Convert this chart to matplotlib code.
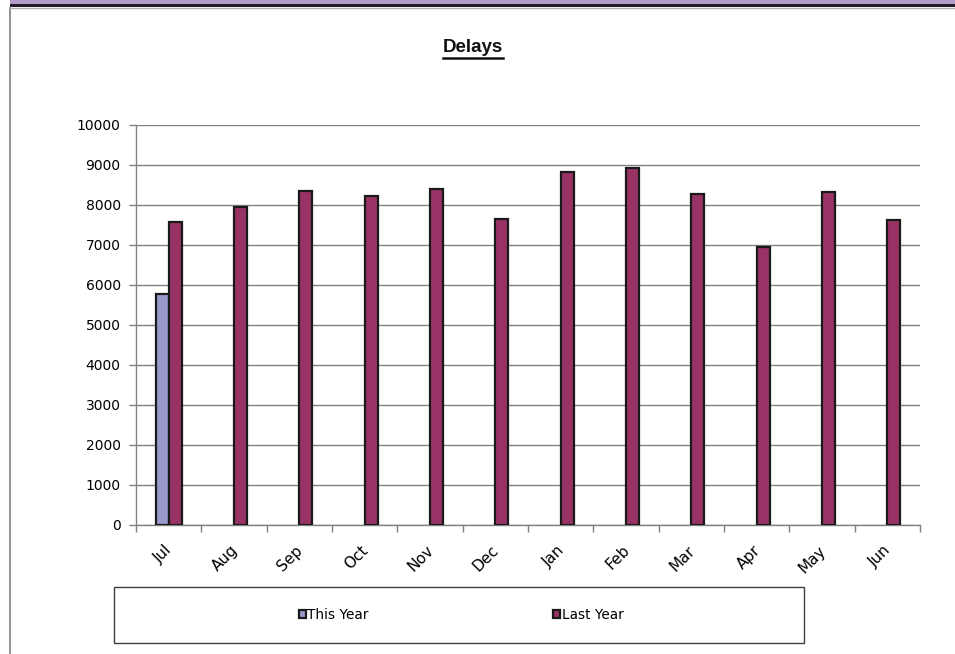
import matplotlib
matplotlib.use('Agg')
from matplotlib import pyplot as plt, ticker, transforms
from matplotlib.patches import Rectangle
from matplotlib.lines import Line2D
import numpy as np

months = ['Jul', 'Aug', 'Sep', 'Oct', 'Nov', 'Dec', 'Jan', 'Feb', 'Mar', 'Apr', 'May', 'Jun']
this_year = [5770]
last_year = [7575, 7935, 8335, 8210, 8400, 7635, 8810, 8915, 8268, 6943, 8325, 7625]

W, H = 955, 654
plt.rcParams['font.family'] = ['DejaVu Sans']

fig = plt.figure(figsize=(W / 100, H / 100), dpi=100)
fig.patch.set_facecolor('white')

def px(x0, y0, x1, y1):
    # pixel box (top-left origin) -> figure fraction rect
    return [x0 / W, 1 - y1 / H, (x1 - x0) / W, (y1 - y0) / H]

ax = fig.add_axes(px(136, 124.7, 920, 524.7))

x = np.arange(len(months))
bw = 0.2
ax.bar(x[:len(this_year)] - bw / 2, this_year, bw, color='#9999CC', edgecolor='#1a1a1a',
       linewidth=1.6, label='This Year', zorder=3)
ax.bar(x + bw / 2, last_year, bw, color='#993366', edgecolor='#1a1a1a',
       linewidth=1.6, label='Last Year', zorder=3)

ax.set_xlim(-0.5, len(months) - 0.5)
ax.set_ylim(0, 10000)
ax.yaxis.set_major_locator(ticker.MultipleLocator(1000))
ax.grid(axis='y', color='#808080', linewidth=1.0, zorder=0)

for s in ['top', 'right']:
    ax.spines[s].set_visible(False)
for s in ['left', 'bottom']:
    ax.spines[s].set_color('#808080')
    ax.spines[s].set_linewidth(1.0)

ax.set_xticks(x)
ax.set_xticklabels(months, rotation=45, ha='right', va='top', rotation_mode='anchor')
ax.set_xticks(np.arange(-0.5, len(months)), minor=True)
ax.tick_params(axis='x', which='major', length=0, pad=13, labelsize=11, colors='black')
ax.tick_params(axis='x', which='minor', length=5, width=1, color='#808080', direction='out')
ax.tick_params(axis='y', length=5, width=1, color='#808080', pad=6, labelsize=10)
shift = transforms.ScaledTranslation(-4 / 100, 0, fig.dpi_scale_trans)
for lbl in ax.get_xticklabels():
    lbl.set_transform(lbl.get_transform() + shift)

# legend box
fig.patches.append(Rectangle((114 / W, 1 - 643 / H), 690 / W, 56 / H, transform=fig.transFigure,
                             facecolor='white', edgecolor='#404040', linewidth=1.0))
leg = fig.legend(loc='center', bbox_to_anchor=(461 / W, 1 - 615 / H), ncol=2, frameon=False,
                 fontsize=9.8, handlelength=0.5, handleheight=0.5, handletextpad=0.1,
                 columnspacing=13.6)

# outer chart frame and header band
fig.patches.append(Rectangle((10 / W, 1 - 3.5 / H), (W - 10) / W, 3.5 / H, transform=fig.transFigure,
                             facecolor='#B49CCA', edgecolor='none'))
fig.patches.append(Rectangle((10 / W, 1 - 6.5 / H), (W - 10) / W, 3 / H, transform=fig.transFigure,
                             facecolor='#231A2A', edgecolor='none'))
fig.add_artist(Line2D([10 / W, 10 / W], [0, 1 - 8 / H], color='#808080', linewidth=1.2))
fig.add_artist(Line2D([10 / W, 1], [1 - 8 / H, 1 - 8 / H], color='#B0B0B0', linewidth=1.0))

title = fig.text(473 / W, 1 - 47 / H, 'Delays', ha='center', va='center', fontsize=13.5,
                 fontweight='bold', family='Liberation Sans', color='#111111')
fig.canvas.draw()
bb = title.get_window_extent()
uy = bb.y0 - 2.5
fig.add_artist(Line2D([bb.x0 / W, bb.x1 / W], [uy / H, uy / H], color='#111111', linewidth=1.8))

fig.savefig('out.png', dpi=100)
